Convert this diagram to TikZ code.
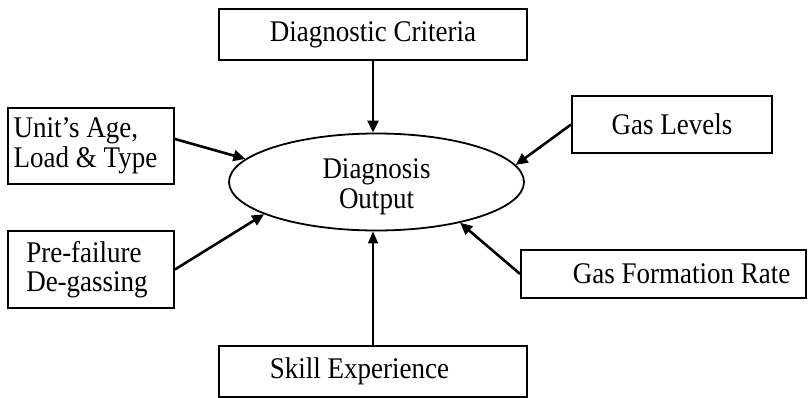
\documentclass[tikz,border=0pt]{standalone}
\usepackage{fontspec}
\setmainfont{Liberation Serif}[FakeStretch=0.9]
\usetikzlibrary{shapes.geometric,arrows.meta}
\begin{document}
\begin{tikzpicture}[x=1pt,y=-1pt,
  txt/.style={font=\fontsize{30}{29.5}\selectfont},
  box/.style={draw,line width=1.8pt,inner sep=0pt,txt},
  arr/.style={line width=2.6pt,-{Triangle[length=12pt,width=11pt]}},
  thinarr/.style={line width=1.4pt,-{Triangle[length=12pt,width=10pt]}}]
\useasboundingbox (0,0) rectangle (808,398);
\node[box,minimum width=308,minimum height=51] (crit) at (373,34.5) {Diagnostic Criteria};
\node[box,minimum width=166,minimum height=76,
  label={[name=unittext,txt,align=left,xshift=-5.5pt]center:Unit’s Age,\\Load \& Type}] (unit) at (91,146) {};
\node[box,minimum width=200,minimum height=57] (gas) at (672,124.5) {Gas Levels};
\node[box,minimum width=166,minimum height=77,
  label={[name=pretext,txt,align=left,xshift=-4pt]center:Pre-failure\\De-gassing}] (pre) at (91,269.5) {};
\node[box,minimum width=285,minimum height=48,
  label={[name=ratetext,txt,xshift=18pt]center:Gas Formation Rate}] (rate) at (663.5,274) {};
\node[box,minimum width=308,minimum height=51,
  label={[name=skilltext,txt,xshift=-13.5pt]center:Skill Experience}] (skill) at (373,371.5) {};
\node[draw,ellipse,line width=1.8pt,minimum width=295,minimum height=97,inner sep=0pt,
  label={[name=elltext,txt,align=center,yshift=-5pt]center:Diagnosis\\Output}] (ell) at (376.5,182) {};
\draw[arr] (crit.south) -- (crit.south |- ell.north);
\draw[arr] ([yshift=7pt]unit.east) -- (ell.170);
\draw[arr] (gas.west) -- (ell.7);
\draw[arr] (pre.east) -- (ell.196);
\draw[arr] (rate.west) -- (ell.334);
\draw[thinarr] (skill.north) -- (skill.north |- ell.south);
\end{tikzpicture}
\end{document}
